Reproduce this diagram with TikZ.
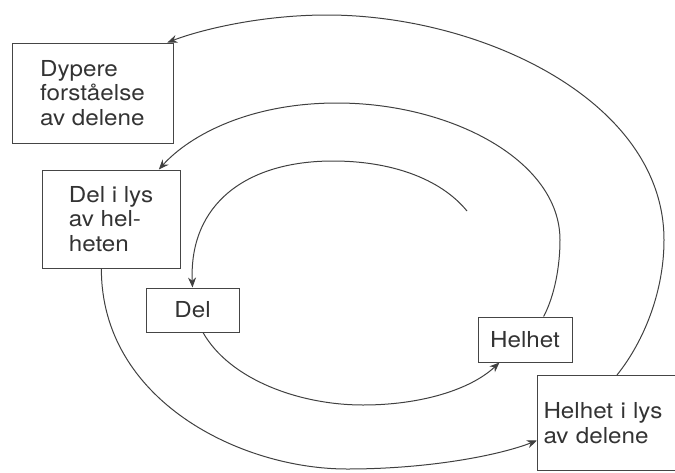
\documentclass[tikz,border=0pt]{standalone}
\usepackage{fontspec}
\newfontfamily\boxfont{TeX Gyre Heros}[FakeStretch=1.1]
\usetikzlibrary{arrows.meta,calc}
\definecolor{linegray}{HTML}{404040}
\definecolor{boxgray}{HTML}{454545}
\definecolor{txtgray}{HTML}{333333}
\begin{document}
\begin{tikzpicture}[x=1pt,y=1pt,yscale=-1,
  box/.style={draw=boxgray,line width=1pt,align=left,text=txtgray,inner sep=0pt,
    font=\boxfont\fontsize{22}{24.5}\selectfont},
  spiral/.style={draw=linegray,line width=1pt,-{Stealth[length=10pt,width=8pt]}}]
\useasboundingbox (0,0) rectangle (675,472);
\node[box,minimum width=161pt,minimum height=100pt] (dyp) at (92.5,93) {Dypere\\forståelse\\av delene};
\node[box,minimum width=138pt,minimum height=98pt] (dellys) at (111,219) {Del i lys\\av hel-\\heten};
\node[box,minimum width=93pt,minimum height=44pt] (del) at (192.5,310) {Del};
\node[box,minimum width=94pt,minimum height=45pt] (helhet) at (525,339.5) {Helhet};
\node[box,anchor=north west,text width=140pt,inner xsep=6pt,minimum height=95pt] (hellys) at (537,375) {Helhet i lys\\av delene};
\coordinate (start) at (467,211);
\draw[spiral] (start) .. controls (440,178) and (390,161) .. (333,161) .. controls (245,161) and (189,205) .. (del.north);
\draw[spiral] (del.-65) .. controls (230,380) and (300,405) .. (363,405) .. controls (420,405) and (470,390) .. (helhet.-138);
\draw[spiral] (helhet.51) .. controls (555,295) and (560,265) .. (560,240) .. controls (560,160) and (450,103) .. (337,103) .. controls (250,103) and (190,135) .. (dellys.46);
\draw[spiral] (dellys.-101) .. controls (101,400) and (240,469) .. (347,469) .. controls (430,469) and (500,455) .. ($(hellys.west)+(0,17.5)$);
\draw[spiral] ($(hellys.north west)+(80,0)$) .. controls (645,340) and (664,290) .. (664,240) .. controls (664,100) and (480,15) .. (327,15) .. controls (260,15) and (200,30) .. (dyp.34);
\end{tikzpicture}
\end{document}
